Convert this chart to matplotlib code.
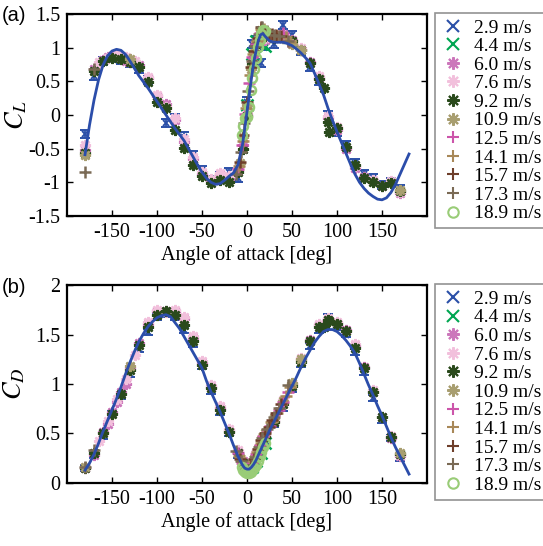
import matplotlib
matplotlib.use('Agg')
import matplotlib.pyplot as plt
from matplotlib.lines import Line2D
import numpy as np

plt.rcParams['font.family'] = ['Liberation Serif', 'DejaVu Serif']
plt.rcParams['mathtext.fontset'] = 'stix'
plt.rcParams['axes.unicode_minus'] = False

speeds = ['2.9 m/s', '4.4 m/s', '6.0 m/s', '7.6 m/s', '9.2 m/s', '10.9 m/s',
          '12.5 m/s', '14.1 m/s', '15.7 m/s', '17.3 m/s', '18.9 m/s']

# fitted curves (blue line)
fit_ang = [-180, -175, -170, -165, -160, -155, -150, -145, -140, -135, -130, -125,
           -120, -115, -110, -105, -100, -95, -90, -85, -80, -75, -70, -65, -60,
           -55, -50, -45, -40, -35, -30, -25, -20, -15, -10, -5, -2.5, 0, 2.5, 5,
           7.5, 10, 12.5, 15, 17.5, 20, 25, 30, 35, 40, 45, 50, 55, 60, 65, 70,
           75, 80, 85, 90, 95, 100, 105, 110, 115, 120, 125, 130, 135, 140, 145,
           150, 155, 160, 165, 170, 175, 180]
fit_cl = [-0.59, -0.15, 0.22, 0.52, 0.74, 0.88, 0.95, 0.975, 0.96, 0.90, 0.80, 0.69,
          0.58, 0.49, 0.40, 0.30, 0.20, 0.10, 0.00, -0.10, -0.20, -0.29, -0.38, -0.50, -0.62,
          -0.74, -0.85, -0.94, -1.00, -1.03, -1.02, -0.97, -0.91, -0.86, -0.74, -0.44, -0.2, 0.05, 0.30, 0.55,
          0.78, 0.95, 1.10, 1.19, 1.21, 1.17, 1.10, 1.08, 1.08, 1.08, 1.06, 1.03, 0.98, 0.92, 0.85, 0.77,
          0.62, 0.46, 0.30, 0.10, -0.08, -0.25, -0.41, -0.57, -0.73, -0.88, -1.00, -1.09, -1.16, -1.21, -1.25,
          -1.26, -1.23, -1.15, -1.03, -0.88, -0.73, -0.58]
fit_cd = [0.13, 0.20, 0.29, 0.40, 0.52, 0.63, 0.74, 0.85, 0.97, 1.10, 1.22, 1.33,
          1.43, 1.51, 1.58, 1.63, 1.67, 1.69, 1.70, 1.68, 1.62, 1.56, 1.48, 1.40, 1.32,
          1.24, 1.16, 1.03, 0.92, 0.82, 0.72, 0.61, 0.50, 0.38, 0.27, 0.18, 0.15, 0.14, 0.14, 0.16,
          0.19, 0.23, 0.28, 0.33, 0.38, 0.43, 0.53, 0.62, 0.71, 0.80, 0.89, 0.98, 1.07, 1.17, 1.26, 1.34,
          1.42, 1.48, 1.53, 1.55, 1.55, 1.53, 1.49, 1.44, 1.38, 1.31, 1.21, 1.10, 0.99, 0.89, 0.78,
          0.68, 0.57, 0.46, 0.36, 0.27, 0.18, 0.09]

# measured data, one angle list per speed
ang_29 = [-180, -170, -160, -150, -140, -130, -120, -110, -100, -90, -80, -70, -60, -50, -40,
          -30, -20, -10, -5, 0, 5, 10, 15, 20, 30, 40, 50, 60, 70, 80, 90, 100, 110, 120,
          130, 140, 150, 160, 170]
cl_29 = [-0.28, 0.58, 0.80, 0.85, 0.82, 0.78, 0.68, 0.52, 0.25, -0.12, -0.05, -0.32, -0.59, -0.82, -0.97,
         -0.90, -0.84, -0.93, -0.50, 0.20, 1.05, 1.12, 0.77, 1.03, 1.05, 1.34, 1.19, 0.95, 0.72, 0.50, 0.00,
         -0.25, -0.45, -0.72, -0.88, -0.94, -1.04, -1.00, -1.10]
cd_29 = [0.15, 0.28, 0.47, 0.70, 0.88, 1.10, 1.35, 1.53, 1.68, 1.71, 1.68, 1.55, 1.40, 1.18, 0.93,
         0.72, 0.50, 0.28, 0.18, 0.14, 0.17, 0.25, 0.30, 0.42, 0.60, 0.76, 0.95, 1.20, 1.38, 1.55, 1.68,
         1.58, 1.50, 1.32, 1.12, 0.86, 0.64, 0.45, 0.25]

ang_44 = [0, 5, 10, 15, 20]
cl_44 = [0.15, 0.90, 1.10, 1.05, 1.02]
cd_44 = [0.14, 0.16, 0.22, 0.30, 0.40]

ang_60 = [-180, -170, -160, -155, -150, -145, -140, -135, -130, -120, -110, -100, -90, -80, -70,
          -60, -50, -40, -30, -20, -10, -5, 0, 5, 10, 15, 20, 30, 40, 50, 60, 70, 80, 90, 100,
          110, 120, 130, 140, 150, 160, 170]
cl_60 = [-0.52, 0.68, 0.82, 0.86, 0.88, 0.87, 0.85, 0.80, 0.79, 0.74, 0.55, 0.28, 0.17, -0.07, -0.40,
         -0.66, -0.87, -0.97, -0.88, -0.95, -0.82, -0.45, 0.00, 0.80, 1.08, 1.15, 1.12, 1.18, 1.20, 1.12,
         0.96, 0.78, 0.55, -0.05, -0.22, -0.50, -0.79, -0.92, -0.98, -1.05, -1.00, -1.16]
cd_60 = [0.15, 0.28, 0.52, 0.60, 0.72, 0.82, 0.92, 1.00, 1.16, 1.41, 1.61, 1.74, 1.74, 1.74, 1.66,
         1.46, 1.21, 0.97, 0.76, 0.53, 0.31, 0.22, 0.16, 0.20, 0.30, 0.38, 0.47, 0.63, 0.82, 1.00,
         1.24, 1.44, 1.60, 1.66, 1.62, 1.55, 1.38, 1.17, 0.92, 0.67, 0.45, 0.27]

ang_76 = [-180, -165, -155, -145, -135, -125, -110, -100, -90, -80, -70, -60, -50, -40, -30,
          -20, -10, 0, 10, 20, 30, 40, 60, 80, 90, 100, 120, 140, 160, 170]
cl_76 = [-0.45, 0.78, 0.84, 0.90, 0.86, 0.80, 0.57, 0.30, 0.12, -0.05, -0.36, -0.62, -0.84, -0.95, -0.86,
         -0.90, -0.78, 0.05, 1.05, 1.15, 1.16, 1.17, 0.99, 0.58, -0.02, -0.18, -0.76, -0.96, -0.98, -1.14]
cd_76 = [0.16, 0.42, 0.63, 0.85, 1.05, 1.29, 1.63, 1.75, 1.73, 1.75, 1.68, 1.48, 1.23, 0.99, 0.78,
         0.55, 0.33, 0.17, 0.31, 0.48, 0.64, 0.84, 1.26, 1.61, 1.67, 1.63, 1.40, 0.94, 0.47, 0.28]

ang_92 = [-180, -170, -160, -150, -140, -130, -120, -110, -100, -90, -80, -70, -60, -50, -40,
          -30, -20, -10, -5, 0, 5, 10, 15, 20, 30, 40, 50, 60, 70, 80, 85, 90, 91, 100, 110,
          120, 130, 140, 150, 160, 170]
cl_92 = [-0.57, 0.66, 0.80, 0.84, 0.83, 0.78, 0.72, 0.49, 0.20, 0.10, -0.22, -0.49, -0.74, -0.91, -1.01,
         -0.96, -0.99, -0.85, -0.50, -0.02, 0.75, 1.05, 1.20, 1.18, 1.15, 1.15, 1.10, 0.97, 0.77, 0.53,
         0.40, -0.10, -0.25, -0.20, -0.47, -0.74, -0.93, -1.00, -1.06, -1.01, -1.13]
cd_92 = [0.15, 0.30, 0.50, 0.70, 0.90, 1.14, 1.39, 1.58, 1.70, 1.74, 1.70, 1.60, 1.43, 1.19, 0.96,
         0.74, 0.52, 0.30, 0.20, 0.15, 0.18, 0.27, 0.36, 0.46, 0.62, 0.80, 0.98, 1.22, 1.43, 1.58,
         1.58, 1.65, 1.64, 1.61, 1.54, 1.36, 1.16, 0.92, 0.67, 0.46, 0.29]

ang_109 = [-180, -130, -8, -4, 0, 4, 8, 12, 16, 20, 30, 40, 50, 60, 170]
cl_109 = [-0.60, 0.83, -0.72, -0.32, 0.15, 0.68, 0.92, 1.12, 1.26, 1.22, 1.17, 1.15, 1.05, 0.97, -1.11]
cd_109 = [0.16, 1.18, 0.25, 0.17, 0.13, 0.16, 0.24, 0.34, 0.43, 0.51, 0.66, 0.83, 1.01, 1.25, 0.30]

ang_125 = [-10, -6, -2, 2, 6, 10, 14, 18, 25, 35, 40, 45]
cl_125 = [-0.80, -0.45, 0.02, 0.47, 0.86, 1.06, 1.22, 1.25, 1.18, 1.17, 1.22, 1.10]
cd_125 = [0.30, 0.20, 0.14, 0.14, 0.20, 0.29, 0.38, 0.47, 0.58, 0.74, 0.82, 0.92]

ang_141 = [-9, -5, -1, 3, 7, 11, 15, 19, 27, 33, 43, 48]
cl_141 = [-0.76, -0.38, 0.10, 0.60, 0.90, 1.10, 1.27, 1.27, 1.19, 1.18, 1.16, 1.08]
cd_141 = [0.27, 0.18, 0.13, 0.15, 0.22, 0.31, 0.40, 0.49, 0.62, 0.71, 0.88, 0.97]

ang_157 = [-8, -4, 0, 4, 8, 12, 16, 20, 24, 28, 32, 38]
cl_157 = [-0.70, -0.30, 0.20, 0.72, 0.95, 1.15, 1.30, 1.22, 1.20, 1.21, 1.19, 1.17]
cd_157 = [0.24, 0.16, 0.13, 0.17, 0.24, 0.34, 0.43, 0.51, 0.57, 0.64, 0.71, 0.80]

ang_173 = [-180, -170, -12, -7, -3, 1, 5, 9, 13, 17, 22, 30, 36, 46]
cl_173 = [-0.84, 0.69, -0.88, -0.55, -0.12, 0.35, 0.80, 1.02, 1.20, 1.31, 1.24, 1.19, 1.18, 1.10]
cd_173 = [0.16, 0.33, 0.32, 0.22, 0.15, 0.13, 0.18, 0.26, 0.36, 0.45, 0.55, 0.67, 0.76, 0.99]

ang_189 = [-6, -4, -2, 0, 2, 4, 6, 8, 10, 12, 14, 16, 18, 20]
cl_189 = [-0.30, -0.17, -0.05, -0.03, 0.12, 0.37, 0.55, 0.68, 0.85, 1.01, 1.12, 1.20, 1.26, 1.25]
cd_189 = [0.16, 0.13, 0.11, 0.10, 0.10, 0.11, 0.13, 0.15, 0.18, 0.22, 0.27, 0.31, 0.36, 0.40]

all_ang = [ang_29, ang_44, ang_60, ang_76, ang_92, ang_109, ang_125, ang_141, ang_157, ang_173, ang_189]
all_cl = [cl_29, cl_44, cl_60, cl_76, cl_92, cl_109, cl_125, cl_141, cl_157, cl_173, cl_189]
all_cd = [cd_29, cd_44, cd_60, cd_76, cd_92, cd_109, cd_125, cd_141, cd_157, cd_173, cd_189]

colors = ['#2B50A8', '#00A651', '#CC77BB', '#F2C0DC', '#2A4A1C', '#A89E70',
          '#CC55AA', '#A88858', '#6E3E2A', '#7A6A55', '#99CC77']
ast = (8, 2, 0)
markers = ['x', 'x', ast, ast, ast, ast, '+', '+', '+', '+', 'o']
line_color = '#2B4DAA'

fig = plt.figure(figsize=(5.43, 5.46), dpi=100)
ax1 = fig.add_axes([0.1234, 0.6044, 0.663, 0.37])
ax2 = fig.add_axes([0.1234, 0.1154, 0.663, 0.3626])


def marker_kw(i, ms, mew):
    c = colors[i]
    if markers[i] == 'o':
        return dict(marker='o', mfc='none', mec=c, ms=ms - 1.5, mew=mew)
    return dict(marker=markers[i], color=c, ms=ms, mew=mew)


def draw(ax, vals, fit, err):
    for i in range(len(speeds)):
        c = colors[i]
        kw = marker_kw(i, 8, 1.8)
        if i == 0:
            kw = dict(marker='x', color=c, ms=5, mew=1.4)
            ax.errorbar(all_ang[i], vals[i], yerr=err, fmt='none', ecolor=c,
                        elinewidth=1.3, capsize=3.5, capthick=1.4, zorder=2)
        ax.plot(all_ang[i], vals[i], linestyle='none', zorder=2 + i * 0.01, **kw)
    ax.plot(fit_ang, fit, color=line_color, lw=2, zorder=5)
    for sp in ax.spines.values():
        sp.set_linewidth(1.6)
    ax.tick_params(direction='in', top=True, right=True, length=4, width=1,
                   labelsize=14.5, pad=5)
    ax.set_xlim(-200, 200)
    ax.set_xticks([-150, -100, -50, 0, 50, 100, 150])
    ax.set_xlabel('Angle of attack [deg]', fontsize=14.5, labelpad=2)


draw(ax1, all_cl, fit_cl, 0.06)
ax1.set_ylim(-1.5, 1.5)
ax1.set_yticks([-1.5, -1, -0.5, 0, 0.5, 1, 1.5])
ax1.set_yticklabels(['-1.5', '-1', '-0.5', '0', '0.5', '1', '1.5'])
ax1.set_ylabel('$C_L$', fontsize=19)
ax1.yaxis.set_label_coords(-0.105, 0.5)

draw(ax2, all_cd, fit_cd, 0.03)
ax2.set_ylim(0, 2)
ax2.set_yticks([0, 0.5, 1, 1.5, 2])
ax2.set_yticklabels(['0', '0.5', '1', '1.5', '2'])
ax2.set_ylabel('$C_D$', fontsize=19)
ax2.yaxis.set_label_coords(-0.11, 0.5)

handles = [Line2D([], [], linestyle='none', **marker_kw(i, 9, 1.5)) for i in range(len(speeds))]
for top in [0.976, 0.479]:
    leg = fig.legend(handles, speeds, loc='upper left', bbox_to_anchor=(0.801, top),
                     fontsize=14, frameon=True, fancybox=False, borderaxespad=0,
                     handlelength=1.3, handletextpad=0.4, labelspacing=0.05,
                     borderpad=0.3)
    leg.get_frame().set_edgecolor('#777777')
    leg.get_frame().set_linewidth(1.2)

fig.text(0.004, 0.972, '(a)', fontsize=14.5, family='Liberation Sans', va='center')
fig.text(0.004, 0.474, '(b)', fontsize=14.5, family='Liberation Sans', va='center')

fig.savefig('out.png', dpi=100)
